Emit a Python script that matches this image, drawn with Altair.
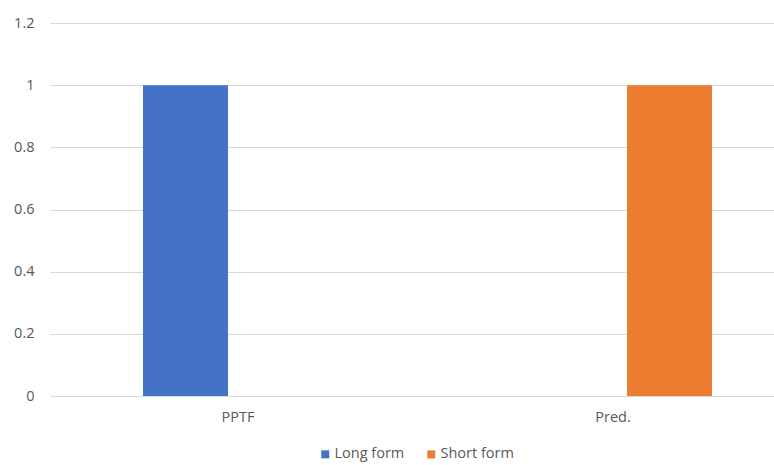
import altair as alt
import pandas as pd

categories = ["PPTF", "Pred."]
series = ["Long form", "Short form"]
long_form = [1, 0]
short_form = [0, 1]
colors = ["#4472C4", "#ED7D31"]

rows = []
for i, c in enumerate(categories):
    rows.append({"cat": c, "series": series[0], "value": long_form[i]})
    rows.append({"cat": c, "series": series[1], "value": short_form[i]})
df = pd.DataFrame(rows)

FONT = "Open Sans"
FS = 14.5

chart = alt.Chart(df).mark_bar().encode(
    x=alt.X("cat:N", sort=categories, title=None,
            scale=alt.Scale(range=[0, 755], paddingInner=0.574, paddingOuter=0.233),
            axis=alt.Axis(labelAngle=0, domain=False, ticks=False, labelPadding=14,
                          labelOffset=alt.ExprRef(expr="datum.value == 'PPTF' ? 10 : -14"),
                          labelFontSize=FS, labelColor="#595959", labelFont=FONT)),
    xOffset=alt.XOffset("series:N", sort=series, scale=alt.Scale(paddingInner=0, paddingOuter=0)),
    y=alt.Y("value:Q", title=None,
            scale=alt.Scale(domain=[0, 1.2], nice=False),
            axis=alt.Axis(values=[0, 0.2, 0.4, 0.6, 0.8, 1.0, 1.2], format="~f",
                          domain=False, ticks=False, labelPadding=16,
                          labelFontSize=FS, labelColor="#595959", labelFont=FONT,
                          gridColor="#d9d9d9", gridWidth=1)),
    color=alt.Color("series:N", sort=series, title=None,
                    scale=alt.Scale(domain=series, range=colors),
                    legend=alt.Legend(orient="none", legendX=268, legendY=424,
                                      direction="horizontal", symbolType="square",
                                      symbolSize=64, symbolStrokeWidth=0, padding=0,
                                      labelFontSize=FS, labelColor="#595959", labelFont=FONT,
                                      labelOffset=2, columnPadding=19)),
).properties(
    width=724, height=373,
    autosize=alt.AutoSizeParams(type="none"),
    padding={"left": 50, "top": 23, "right": 0, "bottom": 69},
).configure(background="white").configure_view(stroke=None)

chart.save("out.html", embed_options={"renderer": "svg", "actions": False})
